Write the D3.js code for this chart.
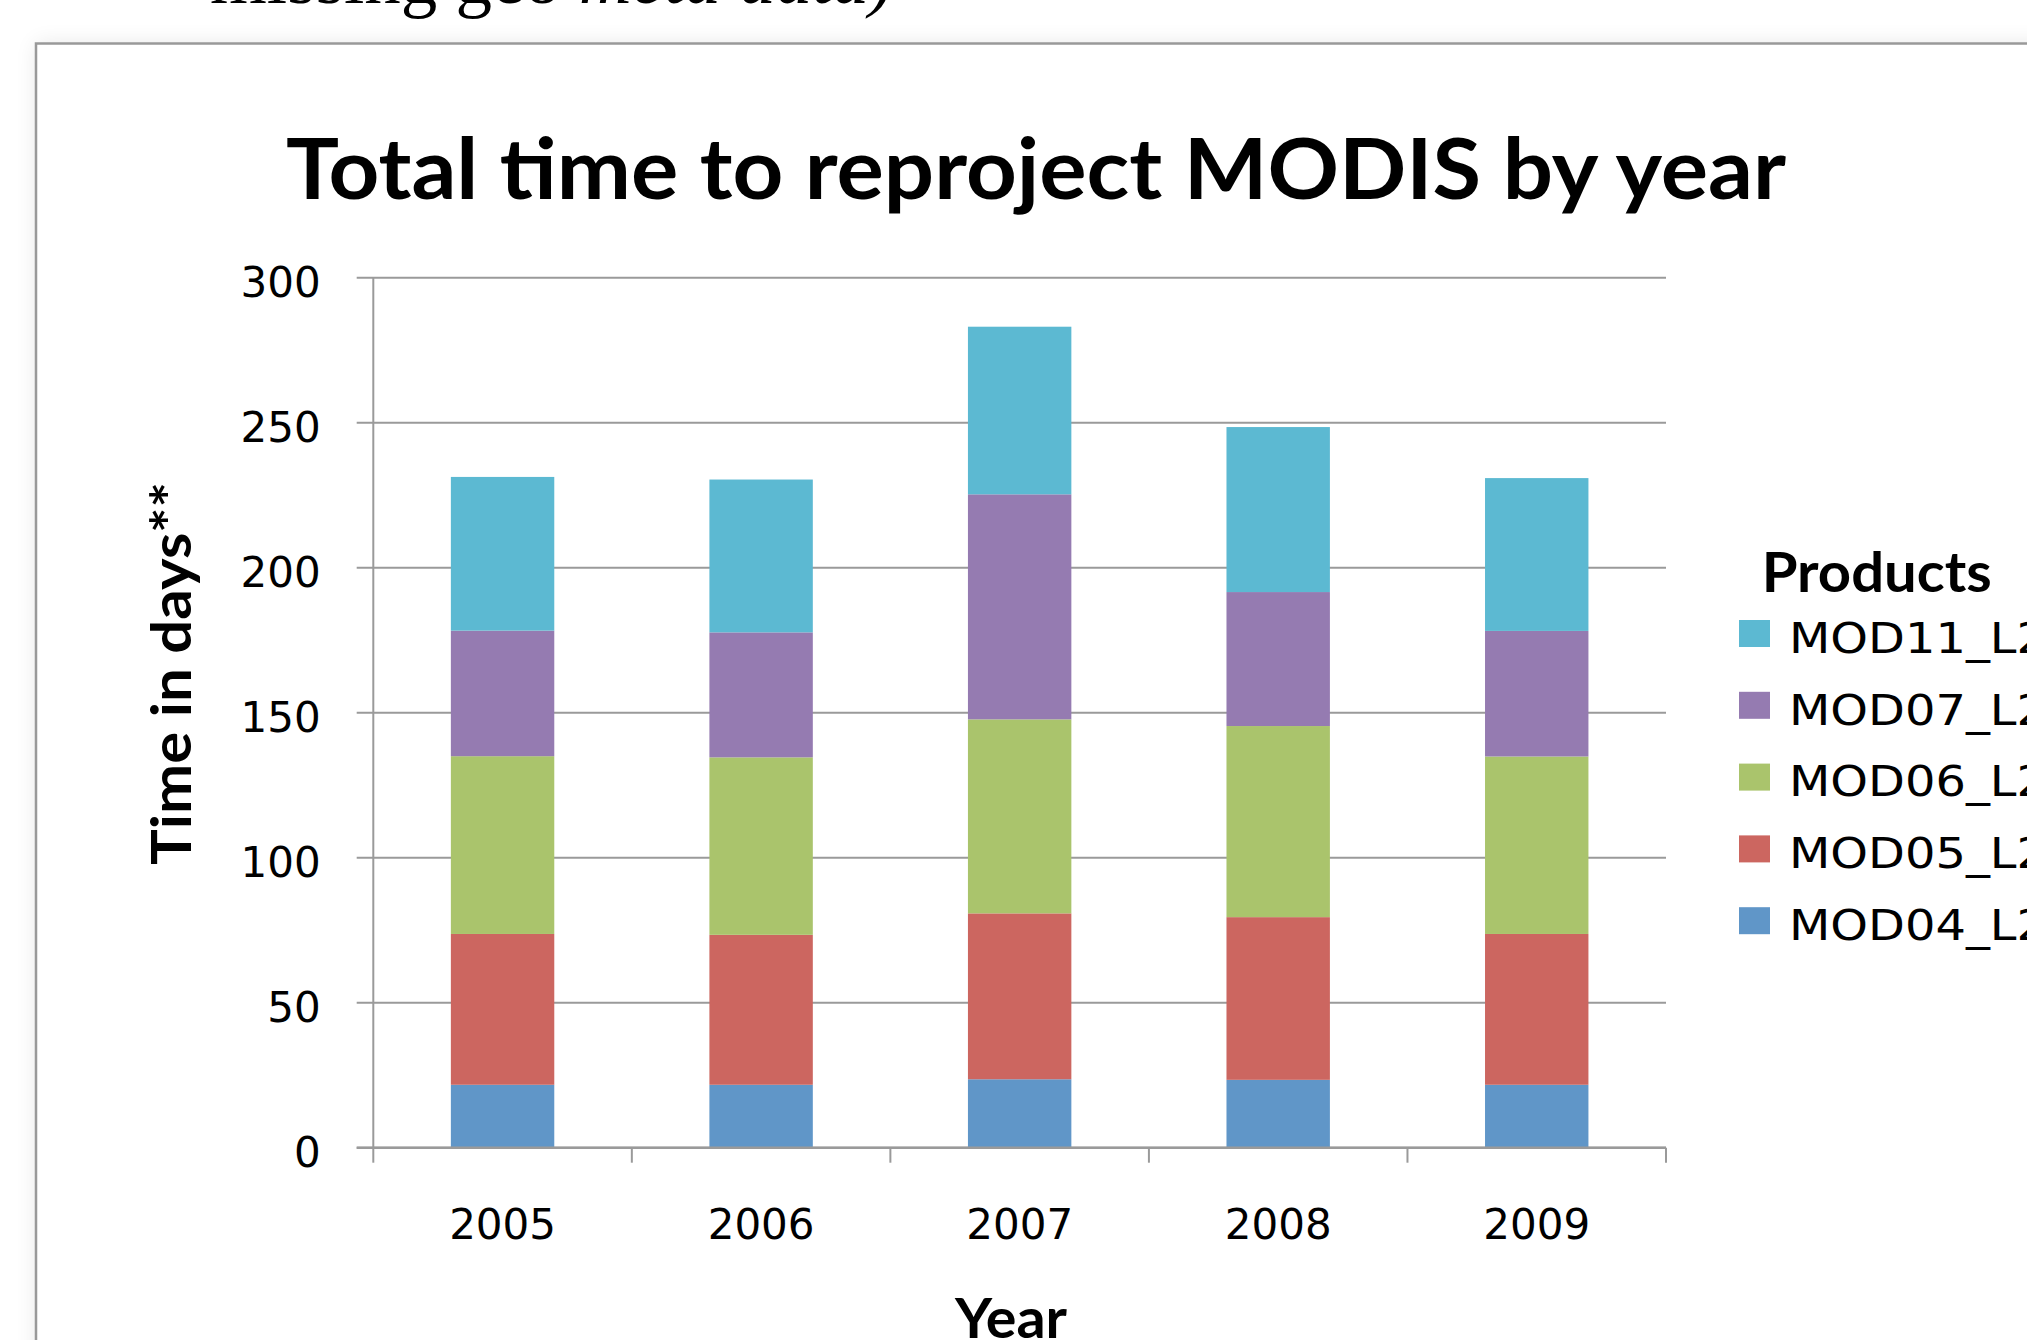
<!DOCTYPE html>
<html><head><meta charset="utf-8">
<script src="https://cdn.jsdelivr.net/npm/d3@7"></script>
<style>html,body{margin:0;padding:0;background:#fff;overflow:hidden}</style>
</head><body>
<svg id="c" width="2027" height="1340" style="display:block"></svg>
<script>
// ---- data ----
const years = ["2005", "2006", "2007", "2008", "2009"];
const products = ["MOD04_L2", "MOD05_L2", "MOD06_L2", "MOD07_L2", "MOD11_L2"];
const mod04 = [21.7, 21.7, 23.6, 23.4, 21.7];
const mod05 = [52.0, 51.7, 57.2, 56.1, 52.0];
const mod06 = [61.3, 61.2, 66.9, 65.9, 61.2];
const mod07 = [43.3, 43.1, 77.6, 46.2, 43.3];
const mod11 = [53.0, 52.7, 57.8, 56.9, 52.7];
const yTicks = [0, 50, 100, 150, 200, 250, 300];
const colors = ["#6096c8", "#cc6660", "#aac46c", "#957bb1", "#5cb9d2"];
const title = "Total time to reproject MODIS by year";
const yTitle = "Time in days**";
const xTitle = "Year";
const legendTitle = "Products";

const series = [mod04, mod05, mod06, mod07, mod11];
const table = years.map((y, i) => {
  const row = { year: y };
  products.forEach((p, k) => row[p] = series[k][i]);
  return row;
});

const svg = d3.select("#c");
const GRID = "#9a9a9a";

// ---- page text above the frame (cut off) ----
const topTxt = svg.append("text")
  .attr("x", 210).attr("y", 3)
  .attr("font-family", "'Liberation Serif', 'Times New Roman', serif")
  .attr("font-size", 73).attr("fill", "#000");
topTxt.append("tspan").text("missing geo ");
topTxt.append("tspan").attr("font-style", "italic").text("meta data)");

// ---- frame with soft shadow ----
const defs = svg.append("defs");
const f = defs.append("filter").attr("id", "sh")
  .attr("x", "-10%").attr("y", "-10%").attr("width", "120%").attr("height", "120%");
f.append("feGaussianBlur").attr("stdDeviation", 11);
svg.append("rect").attr("x", 36).attr("y", 43).attr("width", 2100).attr("height", 1400)
  .attr("fill", "#000").attr("opacity", 0.09).attr("filter", "url(#sh)");
svg.append("rect").attr("x", 36).attr("y", 43.5).attr("width", 2100).attr("height", 1400)
  .attr("fill", "#fff").attr("stroke", "#999").attr("stroke-width", 2.5);

// ---- scales ----
const x = d3.scaleBand().domain(years).range([373.3, 1666])
  .paddingInner(0.6).paddingOuter(0.3);
const y = d3.scaleLinear().domain([0, 300]).range([1147.7, 277.7]);

// ---- gridlines & y axis ----
const yAxis = d3.axisLeft(y).tickValues(yTicks).tickSize(-(1666 - 356.7)).tickFormat(d3.format("d")).tickPadding(0);
const gy = svg.append("g").attr("transform", "translate(1666,0)");
// draw gridlines manually via axis: use separate groups for clarity
const grid = svg.append("g");
grid.selectAll("line").data(yTicks).join("line")
  .attr("x1", 356.7).attr("x2", 1666)
  .attr("y1", d => y(d)).attr("y2", d => y(d))
  .attr("stroke", GRID).attr("stroke-width", 2);
gy.remove();

const yAx = svg.append("g").attr("transform", "translate(373.3,0)")
  .call(d3.axisLeft(y).tickValues(yTicks).tickSize(0).tickPadding(52.6).tickFormat(d3.format("d")));
yAx.select(".domain").remove();
yAx.selectAll("text")
  .attr("font-family", "'DejaVu Sans', Verdana, sans-serif")
  .attr("font-size", 42).attr("fill", "#000")
  .attr("dy", 19);

// ---- bars ----
const stack = d3.stack().keys(products)(table);
svg.append("g").selectAll("g").data(stack).join("g")
  .attr("fill", (d, i) => colors[i])
  .selectAll("rect").data(d => d).join("rect")
  .attr("x", d => x(d.data.year))
  .attr("width", x.bandwidth())
  .attr("y", d => y(d[1]))
  .attr("height", d => y(d[0]) - y(d[1]));

// y axis line
svg.append("line").attr("x1", 373.3).attr("x2", 373.3)
  .attr("y1", y(300)).attr("y2", y(0) + 1)
  .attr("stroke", GRID).attr("stroke-width", 2);

// ---- x axis ----
const xAx = svg.append("g").attr("transform", `translate(0,${y(0)})`)
  .call(d3.axisBottom(x).tickSize(0).tickPadding(91.6));
xAx.select(".domain").remove();
xAx.selectAll("text")
  .attr("font-family", "'DejaVu Sans', Verdana, sans-serif")
  .attr("font-size", 42).attr("fill", "#000").attr("dy", 0);
svg.append("line").attr("x1", 356.7).attr("x2", 1666)
  .attr("y1", y(0)).attr("y2", y(0)).attr("stroke", GRID).attr("stroke-width", 2.5);
const step = x.step();
const bounds = years.map(yr => x(yr) - (step - x.bandwidth()) / 2).concat([1666]);
svg.append("g").selectAll("line").data(bounds).join("line")
  .attr("x1", d => d).attr("x2", d => d)
  .attr("y1", y(0)).attr("y2", y(0) + 15)
  .attr("stroke", GRID).attr("stroke-width", 2);

// ---- titles ----
const boldFont = "Lato, Carlito, Calibri, sans-serif";
svg.append("text").attr("x", 286).attr("y", 199.3)
  .attr("font-family", boldFont).attr("font-weight", 700)
  .attr("font-size", 85).attr("textLength", 1500).attr("lengthAdjust", "spacingAndGlyphs")
  .text(title);

svg.append("text").attr("transform", "translate(190.7,865) rotate(-90)")
  .attr("font-family", boldFont).attr("font-weight", 700)
  .attr("font-size", 56).attr("textLength", 383).attr("lengthAdjust", "spacingAndGlyphs")
  .text(yTitle);

svg.append("text").attr("x", 955).attr("y", 1338)
  .attr("font-family", boldFont).attr("font-weight", 700)
  .attr("font-size", 56).attr("textLength", 112).attr("lengthAdjust", "spacingAndGlyphs")
  .text(xTitle);

// ---- legend ----
svg.append("text").attr("x", 1761.7).attr("y", 591.7)
  .attr("font-family", boldFont).attr("font-weight", 700)
  .attr("font-size", 56).attr("textLength", 230).attr("lengthAdjust", "spacingAndGlyphs")
  .text(legendTitle);

const legendOrder = products.map((p, i) => ({ p, c: colors[i] })).reverse();
const lg = svg.append("g").selectAll("g").data(legendOrder).join("g")
  .attr("transform", (d, i) => `translate(1739,${620 + i * 71.8})`);
lg.append("rect").attr("width", 31).attr("height", 27).attr("fill", d => d.c);
lg.append("text").attr("x", 50).attr("y", 32.7)
  .attr("font-family", "'DejaVu Sans', Verdana, sans-serif")
  .attr("font-size", 42).attr("fill", "#000")
  .attr("textLength", 258).attr("lengthAdjust", "spacingAndGlyphs")
  .text(d => d.p);
</script>
</body></html>
